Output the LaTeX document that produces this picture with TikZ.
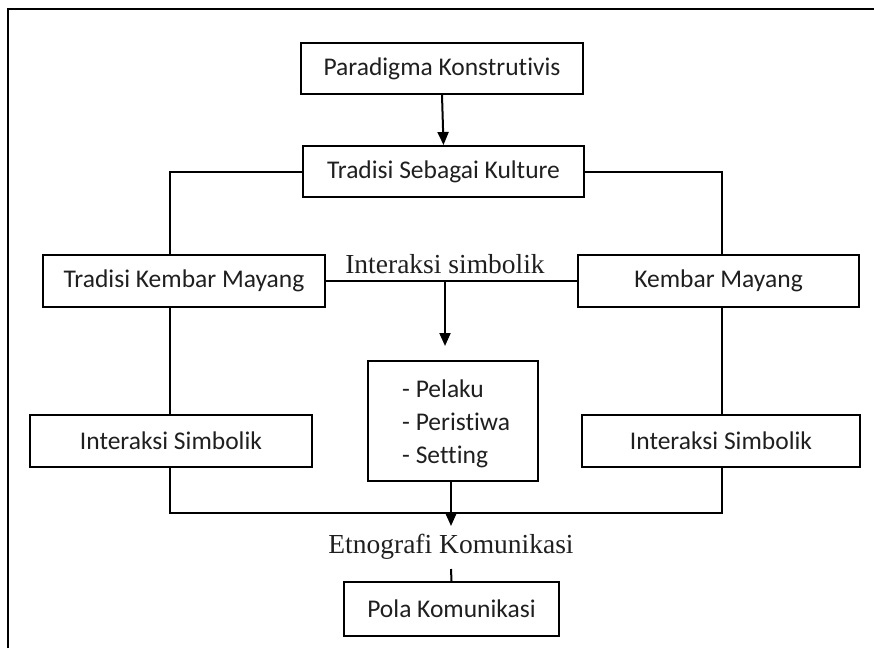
\documentclass[tikz,border=0pt]{standalone}
\usepackage{fontspec}
\setmainfont[Ligatures=NoCommon]{Carlito}
\newfontfamily\serifx{Liberation Serif}
\usetikzlibrary{arrows.meta}
\tikzset{
  box/.style={draw=black, line width=2pt, rectangle, inner sep=0pt, font=\fontsize{25.5}{30}\selectfont, text=black!88},
  itemtxt/.style={inner sep=0pt, anchor=base west, font=\fontsize{25.5}{30}\selectfont, text=black!88},
  conn/.style={line width=2pt},
  arr/.style={line width=2pt, -{Triangle[width=11pt,length=13pt]}},
  lbl/.style={font=\serifx\fontsize{27.5}{32}\selectfont, text=black!88, inner sep=0pt},
  frame/.style={line width=2pt}
}
\begin{document}
\begin{tikzpicture}[x=1pt,y=-1pt]
\useasboundingbox (0,0) rectangle (874,648);
% frame
\coordinate (f0) at (8,648);
\coordinate (f1) at (8,9);
\coordinate (f2) at (874,9);
\draw[frame] (f0) -- (f1) -- (f2);

\node[box, minimum width=282pt, minimum height=51pt] (P) at (442,68.5) {Paradigma Konstrutivis};
\node[box, minimum width=281pt, minimum height=51pt] (T) at (443.5,171.5) {Tradisi Sebagai Kulture};
\node[box, minimum width=282pt, minimum height=52pt] (TKM) at (184,281) {Tradisi Kembar Mayang};
\node[box, minimum width=281pt, minimum height=52pt] (KM) at (718.5,281) {Kembar Mayang};
\node[box, minimum width=282pt, minimum height=52pt] (IS1) at (171,441) {Interaksi Simbolik};
\node[box, minimum width=278pt, minimum height=52pt] (IS2) at (721,441) {Interaksi Simbolik};
\node[box, minimum width=170pt, minimum height=120pt] (C) at (453,421) {};
\node[itemtxt] (C1) at (402,397) {- Pelaku};
\node[itemtxt] (C2) at (402,430) {- Peristiwa};
\node[itemtxt] (C3) at (402,463) {- Setting};
\node[box, minimum width=215pt, minimum height=54pt] (PK) at (451.5,609) {Pola Komunikasi};

\node[lbl, anchor=base] (IS) at (445,273) {Interaksi simbolik};
\node[lbl, anchor=base] (EK) at (451,553) {Etnografi Komunikasi};

% connectors
\draw[arr] (P.south) -- (T.north);
\coordinate (tl) at (170,171.5);
\coordinate (tr) at (722,171.5);
\draw[conn] (T.west) -- (tl) -- (tl |- TKM.north);
\draw[conn] (T.east) -- (tr) -- (tr |- KM.north);
\draw[conn] (TKM.east) -- (KM.west);
\coordinate (ia) at (445,281);
\draw[arr, shorten >=14pt] (ia) -- (ia |- C.north);
\draw[conn] (tl |- TKM.south) -- (tl |- IS1.north);
\draw[conn] (tr |- KM.south) -- (tr |- IS2.north);
\coordinate (bl) at (170,513);
\coordinate (br) at (722,513);
\draw[conn] (tl |- IS1.south) -- (bl) -- (br) -- (tr |- IS2.south);
\coordinate (cb) at (451,481);
\coordinate (ce) at (451,526);
\draw[arr] (cb) -- (ce);
\coordinate (ek) at (451,569);
\draw[conn] (ek) -- (PK.north);
\end{tikzpicture}
\end{document}
